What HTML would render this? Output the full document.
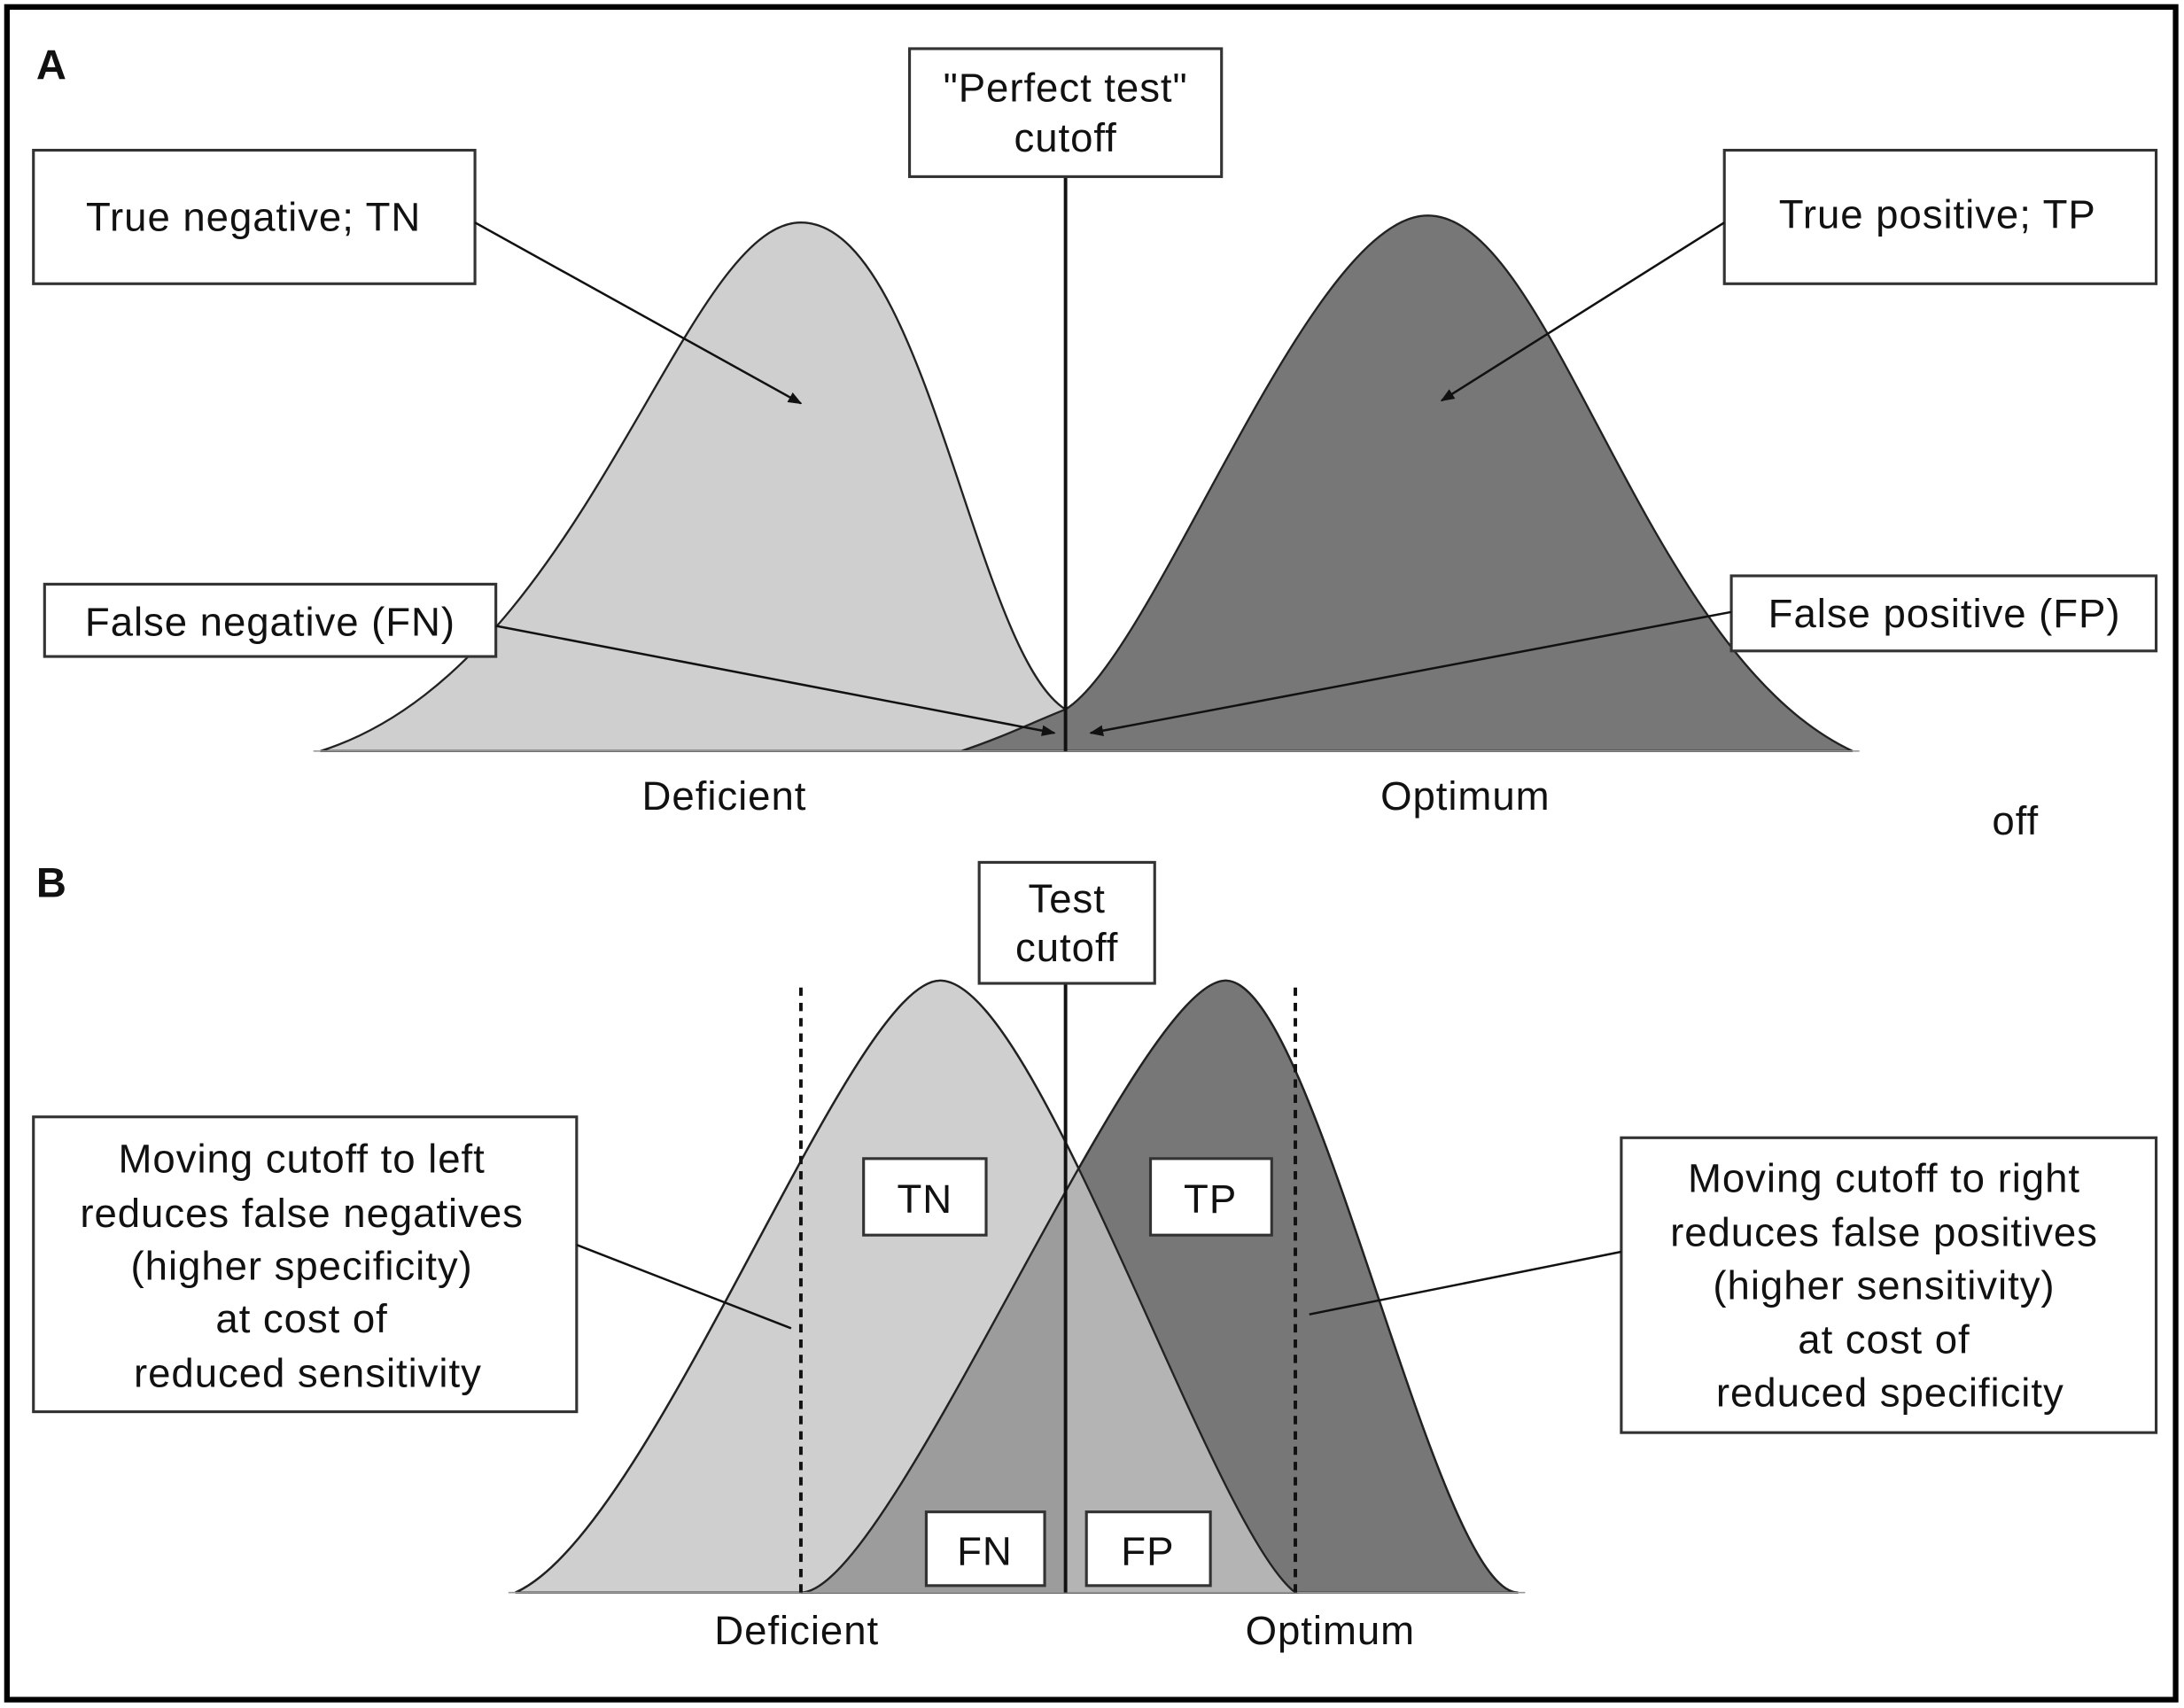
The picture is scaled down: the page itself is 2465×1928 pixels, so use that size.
<!DOCTYPE html>
<html><head><meta charset="utf-8"><style>
html,body{margin:0;padding:0;background:#fff}
svg{display:block}
text{font-family:"Liberation Sans",Arial,sans-serif;fill:#111;letter-spacing:0.6px}
</style></head><body>
<svg width="2465" height="1928" viewBox="0 0 1568 1228" preserveAspectRatio="none" xmlns="http://www.w3.org/2000/svg">
<defs>
<marker id="ah" markerWidth="10" markerHeight="8" refX="9" refY="4" orient="auto" markerUnits="userSpaceOnUse">
<path d="M0,0 L10,4 L0,8 z" fill="#111"/></marker>
<clipPath id="rB"><path d="M575,1145 C640,1145 815,705 880,705 C945,705 1030,1145 1090,1145 Z"/></clipPath>
<clipPath id="leftHalf"><rect x="0" y="600" width="765" height="600"/></clipPath>
<clipPath id="rightHalf"><rect x="765" y="600" width="800" height="600"/></clipPath>
</defs>
<rect x="0" y="0" width="1568" height="1228" fill="#fff"/>
<rect x="5" y="5" width="1557" height="1217" fill="none" stroke="#000" stroke-width="4"/>

<!-- Panel A -->
<text x="26" y="57" font-size="30" font-weight="bold">A</text>
<path d="M230,540 C420,480 490,160 575,160 C665,160 700,470 765,510 C800,530 860,538 890,540 Z" fill="#cfcfcf" stroke="#222" stroke-width="1.5"/>
<path d="M690,540 C720,530 740,520 765,510 C830,470 940,155 1025,155 C1115,155 1180,470 1330,540 Z" fill="#777" stroke="#222" stroke-width="1.5"/>
<line x1="225" y1="540" x2="1335" y2="540" stroke="#999" stroke-width="1"/>
<line x1="765" y1="127" x2="765" y2="540" stroke="#111" stroke-width="2.5"/>

<rect x="653" y="35" width="224" height="92" fill="#fff" stroke="#333" stroke-width="2"/>
<text x="765" y="73" font-size="29" text-anchor="middle">"Perfect test"</text>
<text x="765" y="109" font-size="29" text-anchor="middle">cutoff</text>

<rect x="24" y="108" width="317" height="96" fill="#fff" stroke="#333" stroke-width="2"/>
<text x="182" y="166" font-size="29" text-anchor="middle">True negative; TN</text>
<rect x="1238" y="108" width="310" height="96" fill="#fff" stroke="#333" stroke-width="2"/>
<text x="1391" y="164" font-size="29" text-anchor="middle">True positive; TP</text>
<rect x="32" y="420" width="324" height="52" fill="#fff" stroke="#333" stroke-width="2"/>
<text x="194" y="457" font-size="29" text-anchor="middle">False negative (FN)</text>
<rect x="1243" y="414" width="305" height="54" fill="#fff" stroke="#333" stroke-width="2"/>
<text x="1396" y="451" font-size="29" text-anchor="middle">False positive (FP)</text>

<line x1="341" y1="160" x2="575" y2="290" stroke="#111" stroke-width="1.6" marker-end="url(#ah)"/>
<line x1="1238" y1="160" x2="1035" y2="288" stroke="#111" stroke-width="1.6" marker-end="url(#ah)"/>
<line x1="356" y1="450" x2="757" y2="527" stroke="#111" stroke-width="1.6" marker-end="url(#ah)"/>
<line x1="1243" y1="440" x2="783" y2="527" stroke="#111" stroke-width="1.6" marker-end="url(#ah)"/>

<text x="520" y="582" font-size="29" text-anchor="middle">Deficient</text>
<text x="1052" y="582" font-size="29" text-anchor="middle">Optimum</text>
<text x="1447" y="600" font-size="29" text-anchor="middle">off</text>

<!-- Panel B -->
<text x="26" y="645" font-size="30" font-weight="bold">B</text>
<path d="M370,1145 C470,1100 610,705 675,705 C745,705 870,1100 930,1145 Z" fill="#cfcfcf" stroke="#222" stroke-width="1.5"/>
<path d="M575,1145 C640,1145 815,705 880,705 C945,705 1030,1145 1090,1145 Z" fill="#777" stroke="#222" stroke-width="1.5"/>
<g clip-path="url(#rB)">
 <g clip-path="url(#leftHalf)"><path d="M370,1145 C470,1100 610,705 675,705 C745,705 870,1100 930,1145 Z" fill="#9c9c9c"/></g>
 <g clip-path="url(#rightHalf)"><path d="M370,1145 C470,1100 610,705 675,705 C745,705 870,1100 930,1145 Z" fill="#b4b4b4"/></g>
</g>
<path d="M370,1145 C470,1100 610,705 675,705 C745,705 870,1100 930,1145" fill="none" stroke="#222" stroke-width="1.5"/>
<path d="M575,1145 C640,1145 815,705 880,705 C945,705 1030,1145 1090,1145" fill="none" stroke="#222" stroke-width="1.5"/>
<line x1="365" y1="1145" x2="1095" y2="1145" stroke="#999" stroke-width="1"/>
<line x1="765" y1="707" x2="765" y2="1145" stroke="#111" stroke-width="2.5"/>
<line x1="575" y1="710" x2="575" y2="1145" stroke="#111" stroke-width="2.5" stroke-dasharray="6,5"/>
<line x1="930" y1="710" x2="930" y2="1145" stroke="#111" stroke-width="2.5" stroke-dasharray="6,5"/>

<rect x="703" y="620" width="126" height="87" fill="#fff" stroke="#333" stroke-width="2"/>
<text x="766" y="656" font-size="29" text-anchor="middle">Test</text>
<text x="766" y="691" font-size="29" text-anchor="middle">cutoff</text>

<rect x="620" y="833" width="88" height="55" fill="#fff" stroke="#333" stroke-width="2"/>
<text x="664" y="872" font-size="29" text-anchor="middle">TN</text>
<rect x="826" y="833" width="87" height="55" fill="#fff" stroke="#333" stroke-width="2"/>
<text x="869" y="872" font-size="29" text-anchor="middle">TP</text>
<rect x="665" y="1087" width="85" height="53" fill="#fff" stroke="#333" stroke-width="2"/>
<text x="707" y="1125" font-size="29" text-anchor="middle">FN</text>
<rect x="780" y="1087" width="89" height="53" fill="#fff" stroke="#333" stroke-width="2"/>
<text x="824" y="1125" font-size="29" text-anchor="middle">FP</text>

<rect x="24" y="803" width="390" height="212" fill="#fff" stroke="#333" stroke-width="2"/>
<text font-size="29" text-anchor="middle">
<tspan x="221" y="843">Moving  cutoff  to left</tspan>
<tspan x="221" y="882">reduces false negatives</tspan>
<tspan x="221" y="920">(higher specificity)</tspan>
<tspan x="221" y="958">at cost of</tspan>
<tspan x="221" y="997">reduced sensitivity</tspan>
</text>
<rect x="1164" y="818" width="384" height="212" fill="#fff" stroke="#333" stroke-width="2"/>
<text font-size="29" text-anchor="middle">
<tspan x="1357" y="857">Moving  cutoff  to right</tspan>
<tspan x="1357" y="896">reduces false positives</tspan>
<tspan x="1357" y="934">(higher sensitivity)</tspan>
<tspan x="1357" y="973">at cost of</tspan>
<tspan x="1357" y="1011">reduced specificity</tspan>
</text>
<line x1="414" y1="895" x2="568" y2="955" stroke="#111" stroke-width="1.6"/>
<line x1="1164" y1="900" x2="940" y2="945" stroke="#111" stroke-width="1.6"/>

<text x="572" y="1182" font-size="29" text-anchor="middle">Deficient</text>
<text x="955" y="1182" font-size="29" text-anchor="middle">Optimum</text>
</svg>
</body></html>
